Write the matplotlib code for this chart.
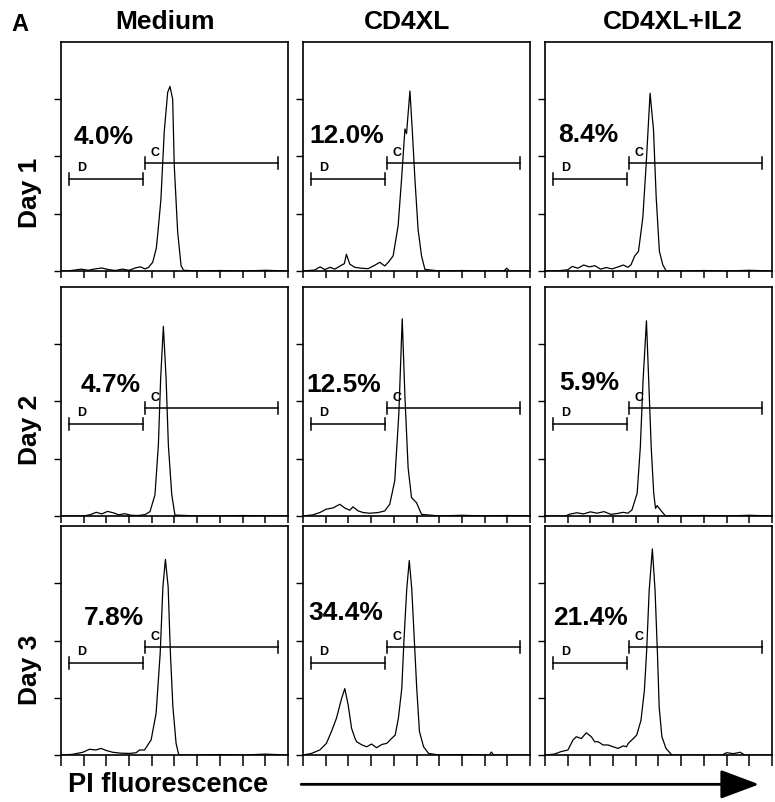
import matplotlib
matplotlib.use('Agg')
import matplotlib.pyplot as plt
from matplotlib.patches import FancyArrowPatch

plt.rcParams['font.family'] = ['Liberation Sans', 'DejaVu Sans']
plt.rcParams['font.weight'] = 'bold'

columns = ['Medium', 'CD4XL', 'CD4XL+IL2']
rows = ['Day 1', 'Day 2', 'Day 3']
percent = [['4.0%', '12.0%', '8.4%'],
           ['4.7%', '12.5%', '5.9%'],
           ['7.8%', '34.4%', '21.4%']]

# histograms: x in % of PI range, y in % of full scale
med_d1_x = [0, 3, 6, 9, 12, 15, 18, 21, 24, 27, 30, 33, 35, 37, 38.5, 40.4, 42, 42.7, 44, 45.5,
            47, 48, 49.2, 49.9, 51.4, 52.9, 54, 60, 70, 80, 90, 100]
med_d1_y = [0, 0, 0.4, 0.8, 0.3, 0.9, 1.3, 0.6, 0.2, 0.8, 0.3, 1.4, 1.8, 0.9, 1.5, 3.8, 10, 17, 31, 61,
            78, 80.6, 75, 46, 17, 2.3, 0.3, 0, 0.2, 0, 0.3, 0]

xl_d1_x = [0, 5.1, 7.5, 9.6, 12, 14, 16.9, 18.2, 19.1, 20.6, 22.8, 25.7, 28.7, 31.6, 33.8, 36, 37.5,
           39.7, 41.9, 43.4, 44.9, 45.6, 46.4, 47.1, 48.1, 49.3, 50.7, 52.2, 53.7, 60, 70, 80, 88.5,
           89.7, 91, 100]
xl_d1_y = [0, 0.4, 1.8, 0.6, 1.6, 0.8, 2.5, 3.2, 7.3, 3.0, 1.6, 1.2, 1.0, 2.5, 3.8, 2.2, 3.7,
           6.6, 19.8, 40, 62, 60, 70, 78.6, 62, 40, 18, 6.6, 0.7, 0, 0.2, 0, 0,
           1.2, 0, 0]

il2_d1_x = [0, 5, 10, 12, 14.5, 17, 19.5, 22, 24.5, 27, 29.5, 32, 34.5, 36.5, 37.9, 39.5, 41.2, 43.1,
            44.6, 46.3, 47.8, 49, 50.4, 51.9, 53.4, 60, 70, 80, 90, 100]
il2_d1_y = [0, 0, 0.5, 2.0, 1.2, 2.6, 1.8, 2.3, 0.8, 1.5, 0.9, 1.7, 2.6, 1.6, 2.7, 6.5, 8.6, 23.3,
            46.9, 77.6, 61.7, 32, 8.6, 2.7, 0, 0, 0.2, 0, 0.3, 0]

med_d2_x = [0, 10, 13, 15.5, 18, 20.5, 23, 25.5, 28, 31, 34, 37, 39.2, 41.4, 42.9, 43.9, 45.1, 46.3,
            47.3, 48.8, 50.2, 60, 70, 80, 90, 100]
med_d2_y = [0, 0, 0.6, 1.6, 0.9, 2.0, 1.4, 0.5, 1.0, 0.3, 0.2, 0.6, 1.9, 9.2, 31, 60, 82.8, 60,
            31, 9.2, 0.4, 0, 0, 0.2, 0, 0]

xl_d2_x = [0, 4.4, 7.4, 10.3, 13.2, 16.2, 18.4, 20.6, 22, 24.3, 26.5, 29.4, 33.1, 36, 38.2, 40.4,
           42.2, 43.7, 44.9, 46.3, 47.8, 50, 52.2, 60, 70, 80, 90, 100]
xl_d2_y = [0, 0.5, 1.5, 3.0, 3.5, 5.1, 3.5, 2.5, 4.0, 2.2, 1.5, 1.2, 1.5, 2.2, 5.1, 15.3,
           44.5, 86.1, 51.8, 21, 8, 5.8, 0.7, 0, 0.3, 0, 0.2, 0]

il2_d2_x = [0, 9, 11, 14, 17, 20, 23, 26, 29, 32, 34.5, 36.5, 38.3, 40.6, 42, 43.2, 44.7, 45.7,
            46.8, 47.9, 48.7, 49.4, 50.9, 53.1, 60, 70, 80, 90, 100]
il2_d2_y = [0, 0, 0.8, 1.4, 0.9, 1.8, 1.2, 1.9, 0.7, 1.1, 1.6, 1.2, 2.6, 9.9, 30, 59, 85.2, 59,
            30, 9.9, 3.3, 4.5, 2.6, 0, 0, 0.2, 0, 0.3, 0]

med_d3_x = [0, 5.1, 9.6, 12.5, 15.4, 17.6, 19.9, 22.8, 26.5, 30.1, 33.1, 34.6, 36.8, 39.7, 41.9,
            43.7, 44.9, 46, 47.2, 48.2, 49.3, 50.7, 51.9, 60, 70, 80, 90, 100]
med_d3_y = [0, 0.3, 1.2, 2.5, 2.2, 2.9, 2.0, 1.2, 0.8, 0.7, 1.0, 2.2, 2.2, 6.6, 18.2,
            44.4, 73.5, 85.4, 73.5, 44.4, 21, 5.1, 0, 0, 0.2, 0, 0.4, 0]

xl_d3_x = [0, 3.7, 7.4, 10.3, 12.5, 14.7, 17, 18.4, 19.9, 21.4, 22.9, 23.6, 25.8, 28, 30.2, 32.4,
           34.7, 36.9, 39.1, 40.6, 42, 43.5, 44.5, 45.7, 46.8, 47.9, 49, 50.1, 51.3, 53.1, 55.3,
           60, 70, 82, 83, 84, 100]
xl_d3_y = [0, 0.7, 2.2, 5.1, 10.2, 16, 24.7, 29, 21.8, 11.6, 7.3, 5.8, 4.5, 3.6, 4.8, 3.2,
           4.6, 5.1, 7.3, 8.7, 16, 29, 50.8, 72.6, 84.9, 72.6, 50.8, 29, 10.2, 3.6, 0.7,
           0, 0.2, 0, 1.3, 0, 0]

il2_d3_x = [0, 4.1, 7.1, 10.1, 12.3, 13.8, 16, 18.2, 20.4, 21.9, 23.4, 25.6, 27.8, 30, 32.2, 34.5,
            35.9, 36.7, 38.2, 40.4, 42.3, 43.8, 44.8, 45.9, 47.3, 48.5, 49.6, 50.3, 51.5, 53.3,
            55.9, 65, 78, 80, 83, 86, 88, 100]
il2_d3_y = [0, 0.4, 1.5, 2.2, 6.5, 8.0, 7.2, 9.7, 8.0, 5.8, 5.8, 4.4, 4.4, 3.6, 2.9, 4.0,
            3.6, 5.1, 6.5, 8.7, 15.2, 28.3, 45.7, 71.8, 90, 71.8, 42.8, 21, 8, 2.9,
            0, 0, 0, 1.0, 0.6, 1.2, 0, 0]

traces = [[(med_d1_x, med_d1_y), (xl_d1_x, xl_d1_y), (il2_d1_x, il2_d1_y)],
          [(med_d2_x, med_d2_y), (xl_d2_x, xl_d2_y), (il2_d2_x, il2_d2_y)],
          [(med_d3_x, med_d3_y), (xl_d3_x, xl_d3_y), (il2_d3_x, il2_d3_y)]]

# marker gates (start, end, level)
gate_d = (3.5, 36.3, 40)
gate_c = (36.9, 95.4, 47)

# where the percentage sits in each panel (left edge, centre height)
pct_pos = [[(5.6, 60), (2.9, 60.5), (5.9, 60.8)],
           [(8.5, 58.4), (1.5, 58.4), (6.3, 59.4)],
           [(10.3, 61.4), (2.2, 63.6), (3.4, 61)]]

fig = plt.figure(figsize=(7.75, 8.03), dpi=100)
lefts = [0.0787, 0.3910, 0.7032]
bottoms = [0.6613, 0.3562, 0.0585]
w, h = 0.2929, 0.2852

for r in range(3):
    for c in range(3):
        ax = fig.add_axes([lefts[c], bottoms[r], w, h])
        x, y = traces[r][c]
        ax.plot(x, y, color='k', lw=0.9)
        ax.set_xlim(0, 100)
        ax.set_ylim(0, 100)
        for x0, x1, gy in (gate_d, gate_c):
            ax.plot([x0, x1], [gy, gy], color='k', lw=1.1)
            ax.plot([x0, x0], [gy - 2.6, gy + 2.6], color='k', lw=1.1)
            ax.plot([x1, x1], [gy - 2.6, gy + 2.6], color='k', lw=1.1)
        ax.text(9, 45.5, 'D', fontsize=9, ha='center', va='center')
        ax.text(41.3, 52, 'C', fontsize=9, ha='center', va='center')
        tx, ty = pct_pos[r][c]
        ax.text(tx, ty - 4, percent[r][c], fontsize=19, ha='left', va='baseline')
        ax.set_xticks(range(0, 101, 10))
        ax.set_xticklabels([])
        ax.set_yticks([0, 25, 50, 75])
        ax.set_yticklabels([])
        ax.tick_params(axis='x', direction='out', length=8 if r == 2 else 5, width=1.1)
        ax.tick_params(axis='y', direction='out', length=5, width=1)
        for s in ax.spines.values():
            s.set_linewidth(1.2)

fig.text(0.0258, 0.969, 'A', fontsize=17, ha='center', va='center')
col_x = [0.2129, 0.525, 0.868]
for name, cx in zip(columns, col_x):
    fig.text(cx, 0.972, name, fontsize=19, ha='center', va='center')
row_y = [0.7597, 0.4645, 0.1656]
for name, ry in zip(rows, row_y):
    fig.text(0.039, ry, name, fontsize=19, ha='center', va='center', rotation=90)

fig.text(0.0877, 0.022, 'PI fluorescence', fontsize=19.5, ha='left', va='center')
fig.add_artist(FancyArrowPatch((0.385, 0.022), (0.983, 0.022), transform=fig.transFigure,
                               arrowstyle='-|>,head_length=1.6,head_width=0.6',
                               mutation_scale=15, lw=2, color='k'))

fig.savefig('out.png', dpi=100)
